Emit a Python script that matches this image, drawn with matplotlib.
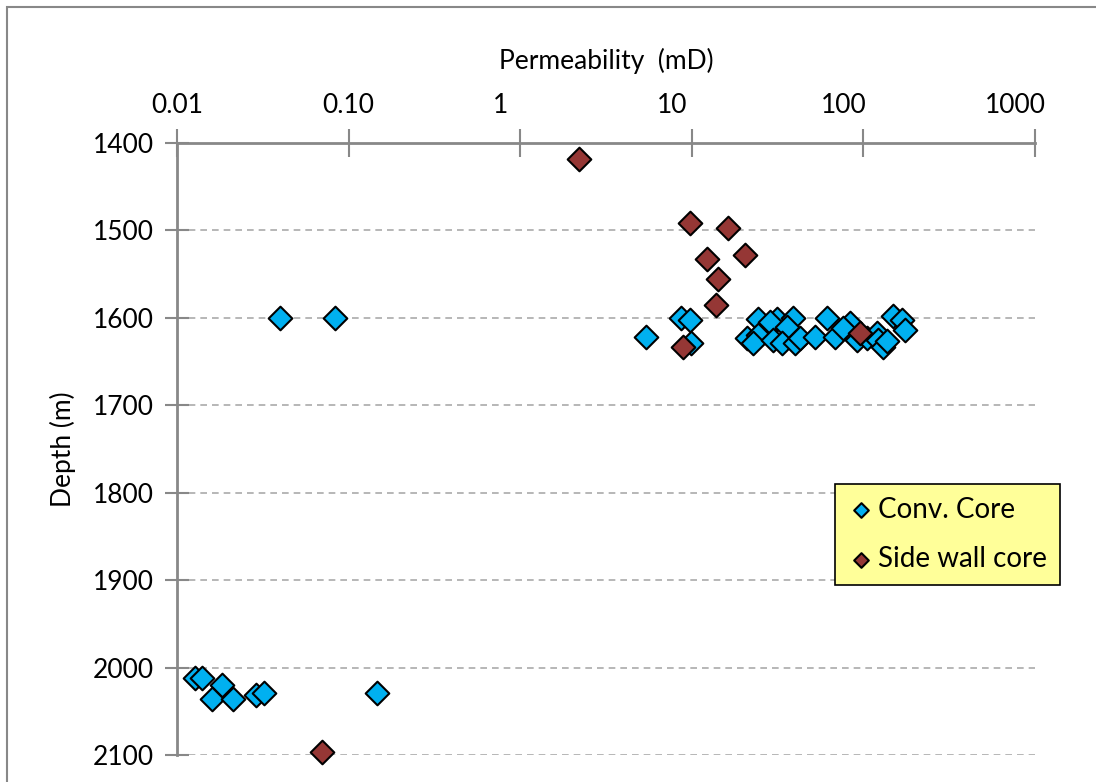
import matplotlib.pyplot as plt
import matplotlib.transforms as mtransforms
import numpy as np

plt.rcParams['font.family'] = ['Lato', 'DejaVu Sans']

# Conventional core samples
conv_perm = [0.040, 0.083, 5.4, 8.6, 9.7, 9.9,
             24.3, 31.4, 38.9, 61.4, 149, 167, 28.6, 35.9,
             21.0, 24.3, 22.7, 29.7, 33.6, 39.9, 42.7, 52.3, 68.3,
             85.9, 91.8, 105, 120, 122, 130, 137, 175, 83.6, 76.0,
             0.0127, 0.0140, 0.0183, 0.0160, 0.0212, 0.0289, 0.0321, 0.1465]
conv_depth = [1600, 1600, 1622, 1600, 1602, 1629,
              1601, 1601, 1600, 1600, 1598, 1602, 1605, 1611,
              1623, 1620, 1629, 1625, 1629, 1629, 1623, 1622, 1622,
              1617, 1625, 1623, 1617, 1625, 1633, 1627, 1614, 1606, 1612,
              2012, 2012, 2020, 2036, 2036, 2031, 2029, 2029]

# Side wall core samples
swc_perm = [2.2, 9.7, 16.2, 12.2, 20.4, 14.2, 13.8, 8.9, 96, 0.070]
swc_depth = [1418, 1492, 1497, 1533, 1528, 1556, 1585, 1633, 1617, 2097]

x_ticks = [0.01, 0.1, 1, 10, 100, 1000]
x_labels = ['0.01', '0.10', '1', '10', '100', '1000']
y_ticks = [1400, 1500, 1600, 1700, 1800, 1900, 2000, 2100]

fig = plt.figure(figsize=(10.96, 7.82), dpi=100)
ax = fig.add_axes([177 / 1096, 27 / 782, (1035 - 177) / 1096, (755 - 143) / 782])

ax.scatter(conv_perm, conv_depth, marker='D', s=145, color='#00B0F0',
           edgecolors='black', linewidths=1.5, label='Conv. Core', zorder=3,
           clip_on=False)
ax.scatter(swc_perm, swc_depth, marker='D', s=145, color='#953735',
           edgecolors='black', linewidths=1.5, label='Side wall core', zorder=4,
           clip_on=False)

ax.set_xscale('log')
ax.set_xlim(0.01, 1000)
ax.set_ylim(2100, 1400)
ax.xaxis.tick_top()
ax.xaxis.set_label_position('top')
ax.set_xticks(x_ticks)
ax.set_xticklabels(x_labels)
ax.xaxis.set_minor_locator(plt.NullLocator())
ax.set_yticks(y_ticks)

ax.tick_params(axis='x', direction='inout', length=20, width=1.5, color='#888888',
               labelsize=19, pad=8)
ax.tick_params(axis='y', direction='inout', length=17, width=1.5, color='#888888',
               labelsize=19, pad=8)

# shift labels from "1" onward slightly left, like the original
shift = mtransforms.ScaledTranslation(-20 / 100, 0, fig.dpi_scale_trans)
for i, lab in enumerate(ax.get_xticklabels()):
    if i >= 2:
        lab.set_transform(lab.get_transform() + shift)

ax.set_xlabel('Permeability  (mD)', fontsize=19, labelpad=17)
ax.set_ylabel('Depth (m)', fontsize=19, labelpad=12)

for y in y_ticks[1:]:
    ax.axhline(y, color='#AAAAAA', linestyle=(0, (4, 3)), linewidth=1.2, zorder=1)

ax.spines['top'].set_color('#888888')
ax.spines['top'].set_linewidth(2)
ax.spines['left'].set_color('#888888')
ax.spines['left'].set_linewidth(2)
ax.spines['right'].set_visible(False)
ax.spines['bottom'].set_visible(False)

leg = ax.legend(loc='upper left', bbox_to_anchor=((835 - 177) / 858, (755 - 484) / 612),
                borderaxespad=0, frameon=True, fancybox=False, fontsize=20,
                markerscale=0.62, handletextpad=0.1, borderpad=0.45,
                labelspacing=0.85, handlelength=1.0)
leg.get_frame().set_facecolor('#FFFF99')
leg.get_frame().set_edgecolor('black')
leg.get_frame().set_linewidth(1.2)
leg.get_frame().set_alpha(1)

fig.patches.append(plt.Rectangle((7 / 1096, -0.1), 1.2, (782 - 7) / 782 + 0.1,
                                 transform=fig.transFigure, fill=False,
                                 edgecolor='#888888', linewidth=1.5))

fig.savefig('out.png', dpi=100)
